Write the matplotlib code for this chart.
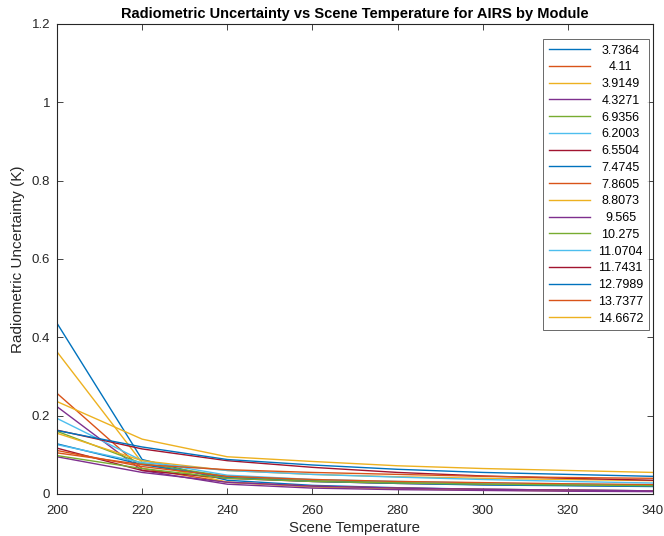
import numpy as np
import matplotlib.pyplot as plt
from matplotlib.ticker import FuncFormatter

# scene temperatures (K)
temps = [200, 220, 240, 260, 280, 300, 320, 340]

# module centre wavelengths (legend labels)
modules = ["3.7364", "4.11", "3.9149", "4.3271", "6.9356", "6.2003", "6.5504",
           "7.4745", "7.8605", "8.8073", "9.565", "10.275", "11.0704", "11.7431",
           "12.7989", "13.7377", "14.6672"]

# radiometric uncertainty (K), one row per module
m_3_7364 = [0.436, 0.088, 0.035, 0.022, 0.016, 0.012, 0.010, 0.008]
m_4_11 = [0.257, 0.065, 0.030, 0.020, 0.015, 0.012, 0.010, 0.008]
m_3_9149 = [0.363, 0.080, 0.030, 0.018, 0.013, 0.010, 0.008, 0.007]
m_4_3271 = [0.223, 0.060, 0.025, 0.015, 0.011, 0.009, 0.007, 0.006]
m_6_9356 = [0.160, 0.078, 0.045, 0.035, 0.030, 0.026, 0.023, 0.021]
m_6_2003 = [0.193, 0.085, 0.048, 0.037, 0.032, 0.028, 0.025, 0.023]
m_6_5504 = [0.117, 0.060, 0.040, 0.032, 0.027, 0.024, 0.022, 0.020]
m_7_4745 = [0.128, 0.075, 0.042, 0.032, 0.027, 0.023, 0.021, 0.019]
m_7_8605 = [0.111, 0.070, 0.045, 0.037, 0.032, 0.029, 0.026, 0.024]
m_8_8073 = [0.155, 0.085, 0.060, 0.050, 0.044, 0.040, 0.037, 0.034]
m_9_565 = [0.095, 0.055, 0.030, 0.020, 0.015, 0.012, 0.010, 0.008]
m_10_275 = [0.098, 0.065, 0.040, 0.032, 0.028, 0.025, 0.023, 0.021]
m_11_0704 = [0.126, 0.080, 0.060, 0.050, 0.043, 0.037, 0.032, 0.028]
m_11_7431 = [0.163, 0.115, 0.085, 0.068, 0.055, 0.046, 0.040, 0.035]
m_12_7989 = [0.162, 0.120, 0.088, 0.074, 0.063, 0.055, 0.050, 0.045]
m_13_7377 = [0.105, 0.075, 0.062, 0.055, 0.050, 0.045, 0.042, 0.040]
m_14_6672 = [0.236, 0.140, 0.095, 0.083, 0.072, 0.065, 0.060, 0.055]

series = [m_3_7364, m_4_11, m_3_9149, m_4_3271, m_6_9356, m_6_2003, m_6_5504,
          m_7_4745, m_7_8605, m_8_8073, m_9_565, m_10_275, m_11_0704, m_11_7431,
          m_12_7989, m_13_7377, m_14_6672]

# MATLAB default colour order
matlab_colors = ["#0072BD", "#D95319", "#EDB120", "#7E2F8E",
                 "#77AC30", "#4DBEEE", "#A2142F"]

plt.rcParams["font.family"] = ["Liberation Sans", "DejaVu Sans"]

fig = plt.figure(figsize=(6.64, 5.36), dpi=100)
ax = fig.add_axes([0.0858, 0.0784, 0.8976, 0.877])

for i, (name, vals) in enumerate(zip(modules, series)):
    ax.plot(temps, vals, color=matlab_colors[i % 7], lw=1.0, label=name)

ax.set_xlim(200, 340)
ax.set_ylim(0, 1.2)
ax.set_xticks(np.arange(200, 341, 20))
ax.set_yticks(np.arange(0, 1.21, 0.2))
ax.yaxis.set_major_formatter(FuncFormatter(lambda v, _: f"{v:g}"))

grey = "#262626"
for s in ax.spines.values():
    s.set_color(grey)
    s.set_linewidth(0.8)
ax.tick_params(direction="in", top=True, right=True, length=4,
               labelsize=9.5, colors=grey, width=0.6)
ax.tick_params(axis="x", pad=8)
ax.tick_params(axis="y", pad=5)

ax.set_title("Radiometric Uncertainty vs Scene Temperature for AIRS by Module",
             fontsize=10.5, fontweight="bold", color="black", pad=4)
ax.set_xlabel("Scene Temperature", fontsize=10.8, color=grey, labelpad=3)
ax.set_ylabel("Radiometric Uncertainty (K)", fontsize=11, color=grey, labelpad=5)

leg = ax.legend(loc="upper right", fontsize=9, frameon=True, fancybox=False,
                handlelength=3.3, handletextpad=0.6, labelspacing=0.38,
                borderpad=0.45, borderaxespad=0, bbox_to_anchor=(0.993, 0.968))
leg.get_frame().set_edgecolor(grey)
leg.get_frame().set_linewidth(0.6)

# centre the labels in their column, like MATLAB does
fig.canvas.draw()
renderer = fig.canvas.get_renderer()
widths = [t.get_window_extent(renderer).width for t in leg.get_texts()]
wmax = max(widths)
for t, w in zip(leg.get_texts(), widths):
    t.set_x((wmax - w) / 2)

fig.savefig("out.png", dpi=100)
